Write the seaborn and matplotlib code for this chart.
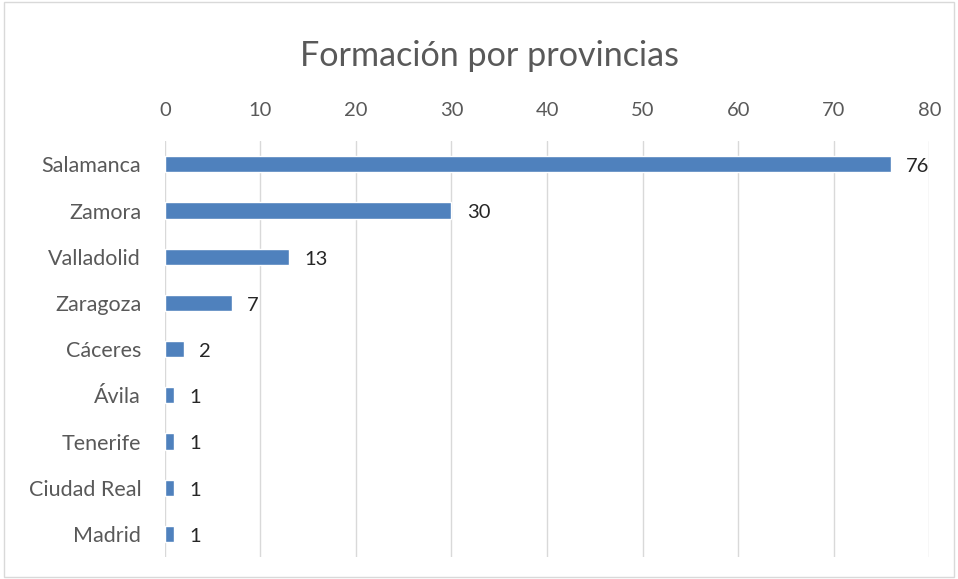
import matplotlib
matplotlib.use("Agg")
import matplotlib.pyplot as plt
import seaborn as sns
import pandas as pd

provincias = ["Salamanca", "Zamora", "Valladolid", "Zaragoza", "Cáceres",
              "Ávila", "Tenerife", "Ciudad Real", "Madrid"]
cantidad = [76, 30, 13, 7, 2, 1, 1, 1, 1]
ticks_x = [0, 10, 20, 30, 40, 50, 60, 70, 80]

df = pd.DataFrame({"provincia": provincias, "cantidad": cantidad})

sns.set_style("white")
plt.rcParams["font.family"] = ["Lato", "DejaVu Sans"]

fig = plt.figure(figsize=(9.58, 5.79), dpi=100)
ax = fig.add_axes([0.172, 0.038, 0.798, 0.718])

sns.barplot(data=df, x="cantidad", y="provincia", color="#4F81BD",
            width=0.35, saturation=1, ax=ax)

# etiquetas de valor a la derecha de cada barra
for i, v in enumerate(cantidad):
    ax.text(v + 1.6, i + 0.05, str(v), va="center", ha="left",
            fontsize=14.5, color="#262626")

ax.set_xlim(0, 80)
ax.set_xticks(ticks_x)
ax.xaxis.tick_top()
ax.tick_params(axis="x", length=0, labelsize=14.5, labelcolor="#595959", pad=16)
ax.tick_params(axis="y", length=0, labelsize=15.5, labelcolor="#595959", pad=17)
ax.grid(axis="x", color="#D9D9D9", linewidth=1)
ax.set_axisbelow(True)
for s in ax.spines.values():
    s.set_visible(False)
ax.set_xlabel("")
ax.set_ylabel("")

fig.text(0.511, 0.903, "Formación por provincias", ha="center", va="center",
         fontsize=24.6, color="#595959")

fig.patches.append(plt.Rectangle((0.004, 0.004), 0.992, 0.992, fill=False,
                                 edgecolor="#D9D9D9", linewidth=1,
                                 transform=fig.transFigure, figure=fig))

fig.savefig("out.png", dpi=100)
